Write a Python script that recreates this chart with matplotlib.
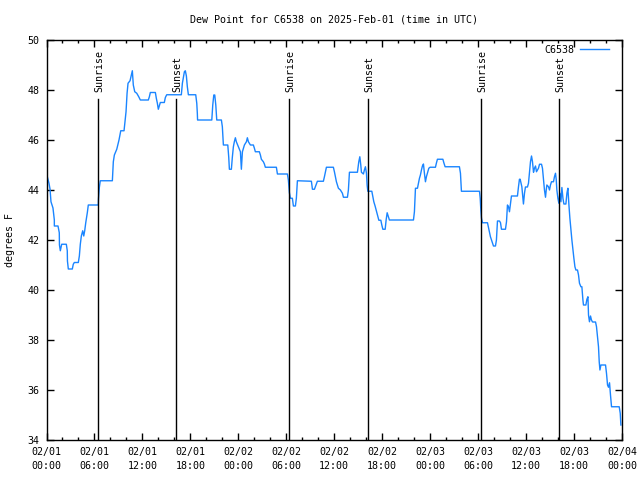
import matplotlib
matplotlib.use("Agg")
import matplotlib.pyplot as plt

hours = [0.10, 0.31, 0.44, 0.56, 0.81, 0.98, 0.98, 1.44, 1.60, 1.62, 1.73, 1.90, 2.48, 2.60, 2.62, 2.73, 3.23, 3.35, 3.48, 3.98,
         4.11, 4.23, 4.36, 4.53, 4.66, 4.78, 4.91, 5.11, 5.23, 6.48, 6.50, 6.61, 6.73, 8.24, 8.36, 8.49, 8.79, 9.07, 9.29, 9.70,
         9.82, 9.95, 10.08, 10.20, 10.45, 10.61, 10.74, 10.86, 11.04, 11.29, 11.54, 11.74, 12.74, 12.87, 12.99, 13.62, 13.74, 13.87, 13.99, 14.12,
         14.24, 14.74, 14.87, 15.04, 16.87, 17.00, 17.25, 17.37, 17.50, 17.62, 17.75, 18.67, 18.80, 18.87, 18.90, 20.68, 20.80, 20.93, 21.05, 21.18,
         21.30, 21.88, 22.00, 22.13, 22.68, 22.80, 22.88, 23.13, 23.25, 23.38, 23.50, 23.63, 23.75, 24.00, 24.26, 24.38, 24.51, 24.76, 25.01, 25.13,
         25.26, 25.51, 25.88, 26.01, 26.13, 26.63, 26.76, 26.88, 27.13, 27.26, 27.38, 28.76, 28.89, 30.14, 30.26, 30.39, 30.51, 30.76, 30.89, 31.14,
         31.26, 31.39, 33.14, 33.27, 33.52, 33.64, 33.89, 34.64, 34.77, 35.02, 35.89, 36.02, 36.14, 36.27, 36.52, 36.77, 37.02, 37.15, 37.65, 37.77,
         37.90, 38.90, 39.07, 39.20, 39.32, 39.40, 39.65, 39.77, 39.90, 40.03, 40.11, 40.20, 40.70, 40.83, 40.95, 41.11, 41.24, 41.40, 41.58, 41.83,
         41.95, 42.08, 42.37, 42.49, 42.62, 42.74, 42.90, 45.91, 46.03, 46.12, 46.16, 46.41, 46.53, 46.66, 46.78, 46.91, 47.03, 47.16, 47.28, 47.41,
         47.53, 47.71, 47.83, 47.99, 48.66, 48.79, 48.91, 49.59, 49.71, 49.87, 51.66, 51.79, 51.91, 54.17, 54.26, 54.34, 54.42, 54.54, 55.17, 55.29,
         55.42, 55.54, 55.67, 55.92, 56.17, 56.29, 56.42, 56.67, 56.80, 56.92, 57.42, 57.55, 57.67, 57.80, 57.92, 58.05, 58.17, 58.92, 59.05, 59.17,
         59.26, 59.47, 59.60, 59.67, 59.80, 59.92, 60.17, 60.30, 60.42, 60.55, 60.68, 60.80, 60.93, 61.05, 61.18, 61.30, 61.43, 61.55, 61.68, 61.93,
         62.05, 62.18, 62.30, 62.43, 62.52, 62.60, 62.80, 62.93, 63.05, 63.18, 63.43, 63.55, 63.68, 63.77, 63.85, 63.98, 64.10, 64.23, 64.36, 64.48,
         64.61, 64.73, 64.98, 65.11, 65.23, 65.36, 65.48, 65.61, 65.73, 65.86, 65.98, 66.11, 66.23, 66.43, 66.56, 66.68, 66.86, 66.98, 67.11, 67.18,
         67.48, 67.61, 67.74, 67.81, 67.93, 68.06, 68.18, 68.31, 68.69, 68.81, 68.94, 69.06, 69.15, 69.24, 69.36, 69.94, 70.06, 70.19, 70.31, 70.44,
         70.56, 70.69, 71.65, 71.78, 71.86]

dewpoint = [44.53, 44.27, 44.04, 43.53, 43.28, 42.80, 42.56, 42.56, 42.29, 41.80, 41.57, 41.83, 41.83, 41.57, 41.16, 40.84, 40.84, 41.03, 41.10, 41.10,
            41.36, 41.83, 42.16, 42.37, 42.16, 42.37, 42.69, 43.10, 43.40, 43.40, 43.63, 44.10, 44.37, 44.37, 45.13, 45.40, 45.63, 46.00, 46.37, 46.37,
            46.73, 47.13, 47.87, 48.27, 48.37, 48.60, 48.77, 48.20, 47.93, 47.87, 47.73, 47.60, 47.60, 47.73, 47.90, 47.90, 47.67, 47.47, 47.23, 47.37,
            47.50, 47.50, 47.70, 47.81, 47.81, 48.27, 48.73, 48.77, 48.56, 48.13, 47.81, 47.81, 47.47, 47.07, 46.80, 46.80, 47.40, 47.80, 47.80, 47.40,
            46.80, 46.80, 46.53, 45.80, 45.80, 45.31, 44.83, 44.83, 45.31, 45.73, 45.93, 46.09, 45.93, 45.73, 45.53, 44.83, 45.53, 45.80, 45.93, 46.09,
            45.93, 45.80, 45.80, 45.67, 45.53, 45.53, 45.40, 45.23, 45.13, 45.04, 44.91, 44.91, 44.64, 44.64, 44.40, 43.89, 43.67, 43.67, 43.36, 43.36,
            43.67, 44.37, 44.35, 44.03, 44.03, 44.13, 44.35, 44.35, 44.53, 44.91, 44.91, 44.73, 44.53, 44.33, 44.07, 44.00, 43.87, 43.71, 43.71, 44.00,
            44.71, 44.71, 45.13, 45.33, 45.00, 44.71, 44.64, 44.80, 44.93, 44.67, 44.20, 43.95, 43.95, 43.73, 43.53, 43.36, 43.20, 43.00, 42.79, 42.79,
            42.60, 42.43, 42.43, 42.80, 43.09, 42.96, 42.80, 42.80, 43.13, 43.73, 44.07, 44.07, 44.27, 44.47, 44.60, 44.80, 44.96, 45.04, 44.67, 44.33,
            44.53, 44.73, 44.87, 44.91, 44.91, 45.09, 45.23, 45.23, 45.09, 44.93, 44.93, 44.67, 43.95, 43.95, 43.67, 43.20, 42.87, 42.69, 42.69, 42.51,
            42.33, 42.13, 42.00, 41.76, 41.76, 42.00, 42.76, 42.76, 42.69, 42.43, 42.43, 42.73, 43.40, 43.33, 43.13, 43.47, 43.76, 43.76, 44.13, 44.43,
            44.43, 44.13, 43.67, 43.44, 43.87, 44.12, 44.12, 44.27, 44.67, 45.13, 45.36, 45.13, 44.71, 44.87, 44.96, 44.73, 44.80, 44.87, 45.03, 45.03,
            44.87, 44.43, 44.00, 43.71, 44.00, 44.20, 44.13, 44.00, 44.20, 44.33, 44.33, 44.53, 44.67, 44.43, 44.00, 43.67, 43.47, 43.87, 43.53, 44.10,
            43.67, 43.44, 43.44, 43.87, 44.07, 43.40, 42.87, 42.40, 42.00, 41.60, 41.27, 40.93, 40.80, 40.80, 40.60, 40.27, 40.13, 40.13, 39.60, 39.40,
            39.40, 39.63, 39.73, 39.00, 38.73, 38.96, 38.80, 38.72, 38.72, 38.53, 38.13, 37.73, 37.13, 36.80, 37.00, 37.00, 36.67, 36.20, 36.11, 36.29,
            35.80, 35.33, 35.33, 35.07, 34.60]

sun_hours = [6.45, 16.25, 30.40, 40.20, 54.42, 64.18]
sun_labels = ["Sunrise", "Sunset", "Sunrise", "Sunset", "Sunrise", "Sunset"]

xtick_hours = [0, 6, 12, 18, 24, 30, 36, 42, 48, 54, 60, 66, 72]
xtick_labels = ["02/01\n00:00", "02/01\n06:00", "02/01\n12:00", "02/01\n18:00",
                "02/02\n00:00", "02/02\n06:00", "02/02\n12:00", "02/02\n18:00",
                "02/03\n00:00", "02/03\n06:00", "02/03\n12:00", "02/03\n18:00",
                "02/04\n00:00"]
yticks = [34, 36, 38, 40, 42, 44, 46, 48, 50]

FONT = "DejaVu Sans Mono"
FS = 7.2
plt.rcParams["font.family"] = FONT
plt.rcParams["font.size"] = FS

fig = plt.figure(figsize=(6.4, 4.8), dpi=100)
ax = fig.add_axes([46.5/640, 40/480, (622-46.5)/640, 400/480])

ax.plot(hours, dewpoint, color="#1a85ff", lw=1.0, label="C6538")

for h, lab in zip(sun_hours, sun_labels):
    ax.plot([h, h], [34, 47.64], color="black", lw=1.0)
    ax.text(h + 0.15, 47.92, lab, rotation=90, ha="center", va="bottom", fontsize=FS)

ax.set_xlim(0, 72)
ax.set_ylim(34, 50)
ax.set_xticks(xtick_hours)
ax.set_xticklabels(xtick_labels, linespacing=1.55)
ax.set_xticks(range(0, 73, 2), minor=True)
ax.set_yticks(yticks)
ax.set_yticklabels([str(v) for v in yticks])

ax.tick_params(axis="both", which="major", direction="in", length=5, width=1,
               top=True, right=True, labelsize=FS)
ax.tick_params(axis="x", which="minor", direction="in", length=2.5, width=1, top=True)
ax.tick_params(axis="x", which="major", pad=5)
ax.tick_params(axis="y", which="major", pad=5)
for s in ax.spines.values():
    s.set_linewidth(1.0)

leg = ax.legend(loc="upper right", bbox_to_anchor=(0.981, 0.9925), frameon=False,
                markerfirst=False, handlelength=2.9, handletextpad=0.6,
                borderpad=0.2, borderaxespad=0.0, fontsize=FS)

fig.text(334/640, 1 - 19/480, "Dew Point for C6538 on 2025-Feb-01 (time in UTC)",
         ha="center", va="center", fontsize=FS)
fig.text(10/640, 0.5, "degrees F", rotation=90, ha="center", va="center", fontsize=FS)

fig.savefig("out.png", dpi=100)
